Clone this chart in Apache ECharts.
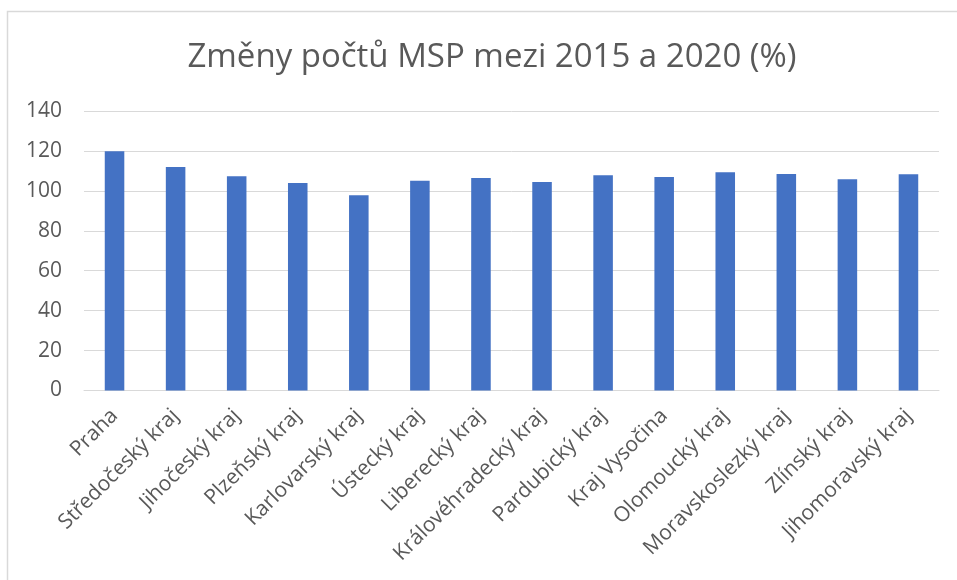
<!DOCTYPE html>
<html>
<head>
<meta charset="utf-8">
<script src="https://cdn.jsdelivr.net/npm/echarts@6/dist/echarts.min.js"></script>
<style>html,body{margin:0;padding:0;background:#fff;}#c{width:957px;height:580px;}</style>
</head>
<body>
<div id="c"></div>
<script>
const categories = ['Praha','Středočeský kraj','Jihočeský kraj','Plzeňský kraj','Karlovarský kraj','Ústecký kraj','Liberecký kraj','Královéhradecký kraj','Pardubický kraj','Kraj Vysočina','Olomoucký kraj','Moravskoslezký kraj','Zlínský kraj','Jihomoravský kraj'];
const values = [119.8, 111.9, 107.3, 103.9, 97.8, 105.1, 106.4, 104.4, 107.8, 106.9, 109.3, 108.4, 105.8, 108.3];
const yTicks = [0, 20, 40, 60, 80, 100, 120, 140];
const titleText = 'Změny počtů MSP mezi 2015 a 2020 (%)';

const font = '"Open Sans", "Noto Sans", sans-serif';
const chart = echarts.init(document.getElementById('c'), null, {renderer: 'canvas'});
chart.setOption({
  animation: false,
  backgroundColor: '#fff',
  graphic: [{
    type: 'rect', shape: {x: 7.5, y: 11.5, width: 1000, height: 1000},
    style: {fill: 'none', stroke: '#d9d9d9', lineWidth: 1.5}, silent: true, z: -1
  }],
  title: {
    text: titleText, left: 487, textAlign: 'center', top: 36,
    textStyle: {fontFamily: font, fontSize: 33, fontWeight: 'normal', color: '#595959'}
  },
  grid: {left: 84, right: 18, top: 111, bottom: 189.5, containLabel: false},
  xAxis: {
    type: 'category', data: categories,
    axisLine: {lineStyle: {color: '#d9d9d9', width: 1}},
    axisTick: {show: false},
    axisLabel: {interval: 0, rotate: 45, margin: 22, fontFamily: font, fontSize: 21, color: '#595959'}
  },
  yAxis: {
    type: 'value', min: yTicks[0], max: yTicks[yTicks.length - 1], interval: 20,
    axisLine: {show: false}, axisTick: {show: false},
    splitLine: {lineStyle: {color: '#d9d9d9', width: 1}},
    axisLabel: {margin: 22, fontFamily: font, fontSize: 21, color: '#595959'}
  },
  series: [{
    type: 'bar', data: values, barWidth: '32%',
    itemStyle: {color: '#4472c4'}
  }]
});
</script>
</body>
</html>
